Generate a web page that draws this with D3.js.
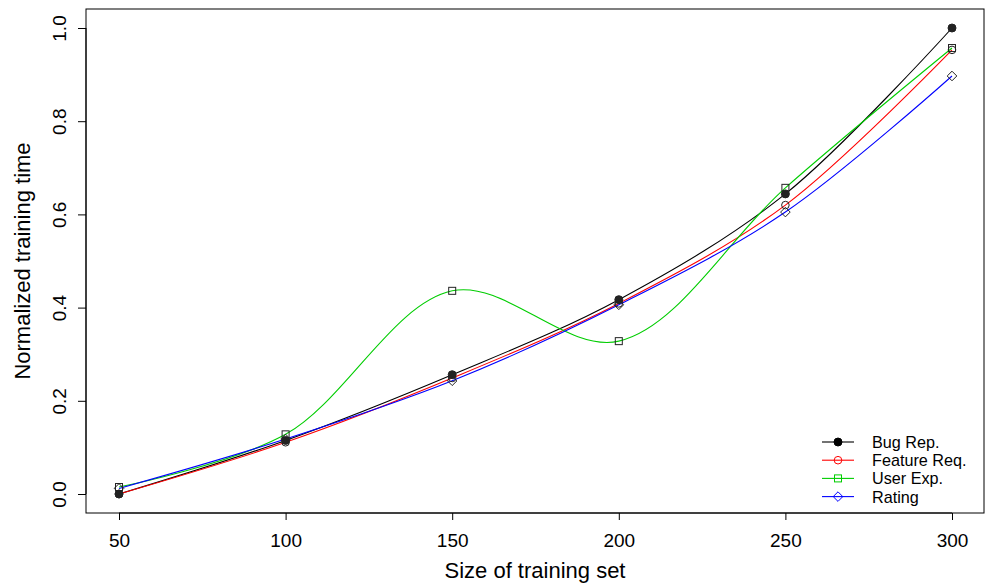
<!DOCTYPE html>
<html><head><meta charset="utf-8">
<script src="https://cdn.jsdelivr.net/npm/d3@7"></script>
<style>body{margin:0;background:#fff}svg{display:block}text{font-family:"Liberation Sans",Arial,sans-serif}</style>
</head><body><svg id="c" width="985" height="585"></svg>
<script>
const sizes = [50, 100, 150, 200, 250, 300];
const bugRep = [0.0, 0.115, 0.256, 0.417, 0.644, 1.0];
const featureReq = [0.0, 0.111, 0.249, 0.409, 0.62, 0.953];
const userExp = [0.015, 0.128, 0.436, 0.328, 0.657, 0.957];
const rating = [0.012, 0.118, 0.243, 0.406, 0.605, 0.897];
const xTicks = [50, 100, 150, 200, 250, 300];
const yTicks = [0.0, 0.2, 0.4, 0.6, 0.8, 1.0];
const seriesNames = ["Bug Rep.", "Feature Req.", "User Exp.", "Rating"];
const seriesColors = ["#000000", "#ff0000", "#00cd00", "#0000ff"];
const seriesShapes = ["fcircle", "circle", "square", "diamond"];

const svg = d3.select("#c");
const L = 86, R = 984, T = 9, B = 513;
const x = d3.scaleLinear().domain([50, 300]).range([119, 952]);
const y = d3.scaleLinear().domain([0, 1]).range([494, 28]);

const seriesVals = [bugRep, featureReq, userExp, rating];

const line = d3.line().x(d => x(d[0])).y(d => y(d[1])).curve(d3.curveCatmullRom.alpha(0.5));
const plot = svg.append("g");
seriesVals.forEach((vals, i) => {
  plot.append("path").datum(sizes.map((s, j) => [s, vals[j]]))
    .attr("d", line).attr("fill", "none").attr("stroke", seriesColors[i]).attr("stroke-width", 1.1);
});

function marker(g, shape, cx, cy, color) {
  if (shape === "fcircle") g.append("circle").attr("cx", cx).attr("cy", cy).attr("r", 4).attr("fill", color).attr("stroke", color);
  else if (shape === "circle") g.append("circle").attr("cx", cx).attr("cy", cy).attr("r", 3.8).attr("fill", "none").attr("stroke", color).attr("stroke-width", 1);
  else if (shape === "square") g.append("rect").attr("x", cx - 3.5).attr("y", cy - 3.5).attr("width", 7).attr("height", 7).attr("fill", "none").attr("stroke", color).attr("stroke-width", 1);
  else if (shape === "diamond") g.append("path").attr("d", `M${cx},${cy-4.8}L${cx+4.8},${cy}L${cx},${cy+4.8}L${cx-4.8},${cy}Z`).attr("fill", "none").attr("stroke", color).attr("stroke-width", 1);
}
seriesVals.forEach((vals, i) => {
  sizes.forEach((s, j) => marker(plot, seriesShapes[i], x(s), y(vals[j]), "#222"));
});

// box
svg.append("rect").attr("x", L).attr("y", T).attr("width", R - L).attr("height", B - T)
  .attr("fill", "none").attr("stroke", "#000").attr("stroke-width", 1);

// x axis
const xa = svg.append("g").attr("transform", `translate(0,${B})`)
  .call(d3.axisBottom(x).tickValues(xTicks).tickSize(7).tickPadding(0).tickFormat(d3.format("d")));
xa.select(".domain").attr("d", `M${x(50)},0H${x(300)}`).attr("stroke", "#000");
xa.selectAll("text").attr("font-size", 19).attr("fill", "#000").attr("font-family", "Liberation Sans, Arial, sans-serif")
  .attr("y", 34).attr("dy", 0);
xa.selectAll("line").attr("stroke", "#000");

// y axis
const ya = svg.append("g").attr("transform", `translate(${L},0)`)
  .call(d3.axisLeft(y).tickValues(yTicks).tickSize(8).tickFormat(d3.format(".1f")));
ya.select(".domain").attr("d", `M0,${y(0)}V${y(1)}`).attr("stroke", "#000");
ya.selectAll("line").attr("stroke", "#000");
ya.selectAll("text").attr("font-size", 19).attr("fill", "#000").attr("font-family", "Liberation Sans, Arial, sans-serif")
  .attr("x", 0).attr("y", 0).attr("dy", 0).attr("text-anchor", "middle")
  .attr("transform", "translate(-20,0) rotate(-90)");

svg.append("text").attr("x", (L + R) / 2).attr("y", 578).attr("text-anchor", "middle")
  .attr("font-size", 22).text("Size of training set");
svg.append("text").attr("transform", `translate(30,${(T + B) / 2}) rotate(-90)`).attr("text-anchor", "middle")
  .attr("font-size", 22).text("Normalized training time");

// legend
const lg = svg.append("g");
seriesNames.forEach((n, i) => {
  const ly = 442 + i * 18.2;
  lg.append("line").attr("x1", 822).attr("x2", 854).attr("y1", ly).attr("y2", ly).attr("stroke", seriesColors[i]).attr("stroke-width", 1.1);
  marker(lg, seriesShapes[i], 838, ly, seriesColors[i]);
  lg.append("text").attr("x", 872).attr("y", ly + 6).attr("font-size", 16.2).text(n);
});
</script></body></html>
